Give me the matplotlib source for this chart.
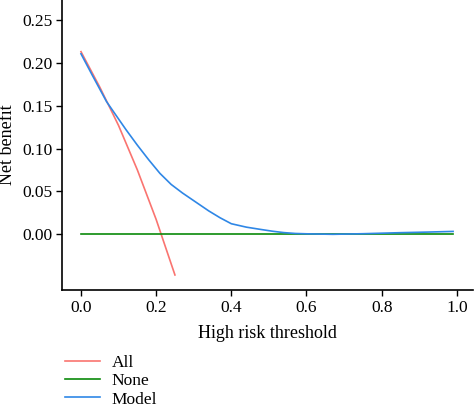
import matplotlib
matplotlib.use("Agg")
import matplotlib.pyplot as plt

plt.rcParams['font.family'] = ['Liberation Serif', 'DejaVu Serif']

# --- data ---
thr_all = [0.0, 0.05, 0.10, 0.15, 0.20, 0.25]
nb_all = [0.2135, 0.172, 0.127, 0.075, 0.017, -0.048]

thr_none = [0.0, 0.99]
nb_none = [0.0, 0.0]

thr_model = [0.0, 0.03, 0.068, 0.09, 0.12, 0.15, 0.18, 0.21, 0.24, 0.27,
             0.30, 0.34, 0.37, 0.40, 0.44, 0.48, 0.51, 0.54, 0.57, 0.60,
             0.67, 0.75, 0.848, 0.92, 0.99]
nb_model = [0.211, 0.186, 0.155, 0.141, 0.122, 0.104, 0.087, 0.071, 0.058, 0.048,
            0.039, 0.027, 0.019, 0.012, 0.008, 0.0052, 0.0032, 0.0016, 0.0006, 0.0002,
            -0.0004, 0.0003, 0.0015, 0.0022, 0.003]

yticks = [0.00, 0.05, 0.10, 0.15, 0.20, 0.25]
xticks = [0.0, 0.2, 0.4, 0.6, 0.8, 1.0]

# --- plot ---
fig = plt.figure(figsize=(4.75, 4.07), dpi=100)
ax = fig.add_axes([62/475, 1 - 290/407, 411/475, 290/407])

ax.plot(thr_all, nb_all, color='#fa7470', lw=1.2, label='All')
ax.plot(thr_none, nb_none, color='#0a8a0a', lw=1.2, label='None')
ax.plot(thr_model, nb_model, color='#2f87e6', lw=1.2, label='Model')

ax.set_xlim(-0.0505, 1.043)
ax.set_ylim(-0.0656, 0.274)
ax.set_xticks(xticks)
ax.set_xticklabels([f'{v:.1f}' for v in xticks])
ax.set_yticks(yticks)
ax.set_yticklabels([f'{v:.2f}' for v in yticks])
ax.tick_params(labelsize=12.5, length=4, width=1, direction='out', pad=3)

for s in ['top', 'right']:
    ax.spines[s].set_visible(False)
for s in ['left', 'bottom']:
    ax.spines[s].set_linewidth(1.2)

ax.set_xlabel('High risk threshold', fontsize=13, labelpad=7)
ax.set_ylabel('Net benefit', fontsize=13, labelpad=4)

fig.legend(loc='upper left', bbox_to_anchor=(58/475, 1 - 348/407), frameon=False,
           fontsize=12.5, handlelength=2.0, handletextpad=0.7,
           labelspacing=0.12, borderaxespad=0)

fig.savefig('out.png', dpi=100)
